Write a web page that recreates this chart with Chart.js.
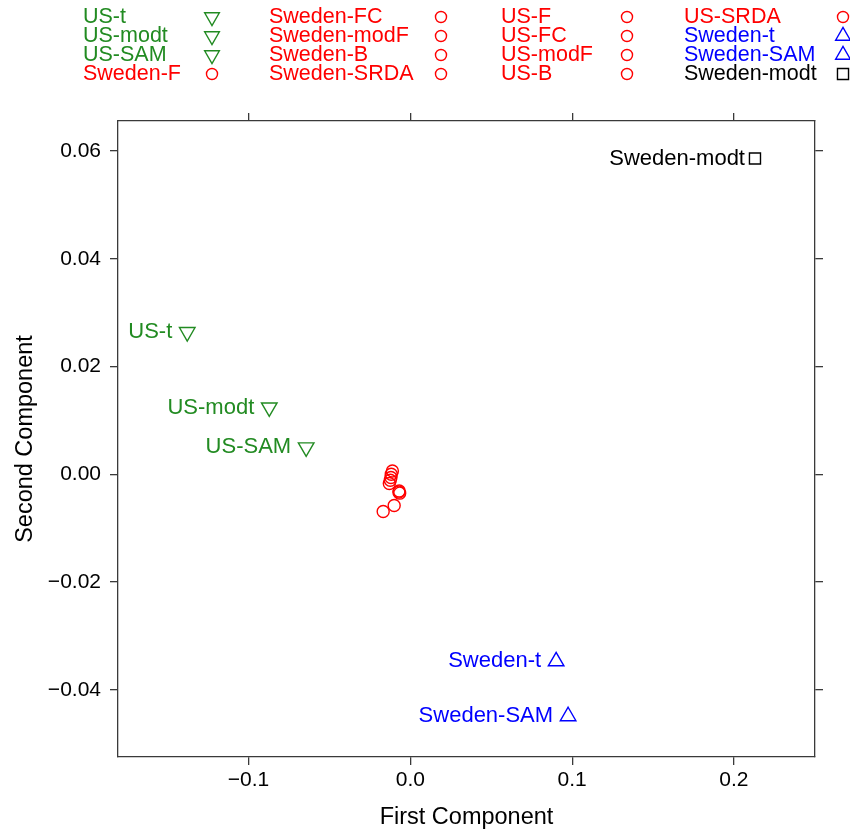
<!DOCTYPE html>
<html>
<head>
<meta charset="utf-8">
<script src="https://cdn.jsdelivr.net/npm/chart.js@4.4.1/dist/chart.umd.min.js"></script>
<style>
html,body{margin:0;padding:0;background:#fff;}
canvas{display:block;}
</style>
</head>
<body>
<canvas id="c" width="850" height="834"></canvas>
<script>
// ---- data ----
const seriesNames = ["US-t","US-modt","US-SAM","Sweden-F","Sweden-FC","Sweden-modF","Sweden-B","Sweden-SRDA",
                     "US-F","US-FC","US-modF","US-B","US-SRDA","Sweden-t","Sweden-SAM","Sweden-modt"];
const firstComponent  = [-0.1379,-0.0872,-0.0644,-0.0111,-0.0118,-0.0120,-0.0124,-0.0130,
                         -0.0069,-0.0066,-0.0100,-0.0168,-0.0071, 0.0901, 0.0975, 0.2130];
const secondComponent = [ 0.0264, 0.0124, 0.0050, 0.0006, 0.0000,-0.0006,-0.0011,-0.0017,
                         -0.0031,-0.0035,-0.0058,-0.0069,-0.0033,-0.0347,-0.0449, 0.0586];
const seriesColors = ["#228B22","#228B22","#228B22","#FF0000","#FF0000","#FF0000","#FF0000","#FF0000",
                      "#FF0000","#FF0000","#FF0000","#FF0000","#FF0000","#0000FF","#0000FF","#000000"];
const seriesShapes = ["down","down","down","circle","circle","circle","circle","circle",
                      "circle","circle","circle","circle","circle","up","up","square"];
const xTicks = [-0.1, 0.0, 0.1, 0.2];
const yTicks = [-0.04, -0.02, 0.00, 0.02, 0.04, 0.06];
const xRange = [-0.1807, 0.2501];
const yRange = [-0.05246, 0.06556];

const FONT = "'Liberation Sans', Arial, Helvetica, sans-serif";
const AXIS = "#3a3a3a";

function fmt(v, d){
  if (Math.abs(v) < 1e-9) v = 0;
  const s = Math.abs(v).toFixed(d);
  return (v < 0 ? "\u2212" : "") + s;
}

function shapeStyle(shape){
  if (shape === "down") return {pointStyle:"triangle", rotation:180, radius:9};
  if (shape === "up") return {pointStyle:"triangle", rotation:0, radius:9};
  if (shape === "square") return {pointStyle:"rect", rotation:0, radius:7.8};
  return {pointStyle:"circle", rotation:0, radius:6};
}

const datasets = seriesNames.map((n,i)=>{
  const st = shapeStyle(seriesShapes[i]);
  return {
    label: n,
    data: [{x:firstComponent[i], y:secondComponent[i]}],
    borderColor: seriesColors[i],
    backgroundColor: "rgba(0,0,0,0)",
    borderWidth: 1.4,
    pointStyle: st.pointStyle,
    rotation: st.rotation,
    pointRadius: st.radius,
    pointHoverRadius: st.radius
  };
});

function drawSymbol(ctx, shape, x, y, s, color){
  ctx.save();
  ctx.strokeStyle = color;
  ctx.lineWidth = 1.4;
  ctx.beginPath();
  if (shape === "circle"){
    ctx.arc(x, y, s*0.65, 0, Math.PI*2);
  } else if (shape === "down"){
    const w = s*1.732/2;
    ctx.moveTo(x - w, y - s*0.5);
    ctx.lineTo(x + w, y - s*0.5);
    ctx.lineTo(x, y + s);
    ctx.closePath();
  } else if (shape === "up"){
    const w = s*1.732/2;
    ctx.moveTo(x - w, y + s*0.5);
    ctx.lineTo(x + w, y + s*0.5);
    ctx.lineTo(x, y - s);
    ctx.closePath();
  } else {
    ctx.rect(x - s*0.65, y - s*0.65, s*1.3, s*1.3);
  }
  ctx.stroke();
  ctx.restore();
}

const legendPlugin = {
  id: "keyLegend",
  afterDraw(chart){
    const ctx = chart.ctx;
    const colX = [83, 269, 501, 684];
    const symX = [212, 441, 627, 843];
    const rowY = [17, 36, 55, 74];
    ctx.save();
    ctx.font = "21.5px " + FONT;
    ctx.textBaseline = "middle";
    ctx.textAlign = "left";
    seriesNames.forEach((n,i)=>{
      const c = Math.floor(i/4), r = i%4;
      ctx.fillStyle = seriesColors[i];
      ctx.fillText(n, colX[c], rowY[r]);
      drawSymbol(ctx, seriesShapes[i], symX[c], rowY[r], 8.5, seriesColors[i]);
    });
    ctx.restore();
  }
};

const pointLabelPlugin = {
  id: "pointLabels",
  afterDatasetsDraw(chart){
    const ctx = chart.ctx;
    ctx.save();
    ctx.font = "22px " + FONT;
    ctx.textBaseline = "middle";
    ctx.textAlign = "right";
    chart.data.datasets.forEach((ds,i)=>{
      if (seriesShapes[i] === "circle") return;
      const el = chart.getDatasetMeta(i).data[0];
      const gap = seriesShapes[i] === "square" ? 10 : 15;
      ctx.fillStyle = seriesColors[i];
      ctx.fillText(ds.label, el.x - gap, el.y);
    });
    ctx.restore();
  }
};

const commonGrid = {drawOnChartArea:false, drawTicks:true, tickLength:8, color:AXIS, lineWidth:1.3};
const commonBorder = {display:true, color:AXIS, width:1.3};

new Chart(document.getElementById("c"), {
  type: "scatter",
  data: {datasets},
  plugins: [legendPlugin, pointLabelPlugin],
  options: {
    responsive:false,
    animation:false,
    events:[],
    layout:{padding:0},
    plugins:{legend:{display:false}, tooltip:{enabled:false}, title:{display:false}},
    scales:{
      x:{
        type:"linear", position:"bottom", min:xRange[0], max:xRange[1],
        afterBuildTicks(s){ s.ticks = xTicks.map(v=>({value:v})); },
        afterFit(s){ s.height = 77; },
        ticks:{font:{family:FONT,size:21}, color:"#000", padding:3, maxRotation:0,
               callback:(v)=>fmt(v,1)},
        grid:commonGrid, border:commonBorder,
        title:{display:true, text:"First Component", color:"#000",
               font:{family:FONT,size:23.5}, padding:{top:2,bottom:2}}
      },
      x2:{
        type:"linear", position:"top", min:xRange[0], max:xRange[1],
        afterBuildTicks(s){ s.ticks = xTicks.map(v=>({value:v})); },
        afterFit(s){ s.height = 121; },
        ticks:{display:false},
        grid:commonGrid, border:commonBorder
      },
      y:{
        type:"linear", position:"left", min:yRange[0], max:yRange[1],
        afterBuildTicks(s){ s.ticks = yTicks.map(v=>({value:v})); },
        afterFit(s){ s.width = 118; },
        ticks:{font:{family:FONT,size:21}, color:"#000", padding:9,
               callback:(v)=>fmt(v,2)},
        grid:commonGrid, border:commonBorder,
        title:{display:true, text:"Second Component", color:"#000",
               font:{family:FONT,size:23.5}, padding:{top:11,bottom:11}}
      },
      y2:{
        type:"linear", position:"right", min:yRange[0], max:yRange[1],
        afterBuildTicks(s){ s.ticks = yTicks.map(v=>({value:v})); },
        afterFit(s){ s.width = 35; },
        ticks:{display:false},
        grid:commonGrid, border:commonBorder
      }
    }
  }
});
</script>
</body>
</html>
